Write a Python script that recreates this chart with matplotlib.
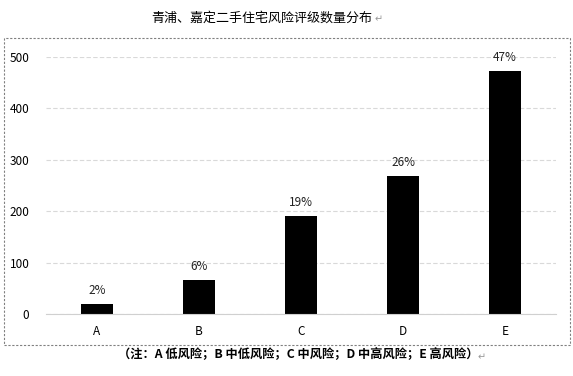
import numpy as np
import matplotlib.pyplot as plt
from matplotlib.patches import Rectangle

plt.rcParams['font.family'] = ['Noto Sans CJK SC', 'DejaVu Sans']

categories = ["A", "B", "C", "D", "E"]
counts = [20, 66, 191, 268, 473]
shares = ["2%", "6%", "19%", "26%", "47%"]
yticks = [0, 100, 200, 300, 400, 500]

fig = plt.figure(figsize=(5.73, 3.76), dpi=100)
ax = fig.add_axes([46 / 573, 1 - 314 / 376, 510 / 573, 257 / 376])

x = np.arange(len(categories))
ax.bar(x, counts, width=0.31, color="black", zorder=3)
for xi, c, s in zip(x, counts, shares):
    ax.text(xi, c + 14, s, ha="center", va="bottom", fontsize=8.5, color="#222222")

ax.set_xlim(-0.5, 4.5)
ax.set_ylim(0, 500)
ax.set_xticks(x)
ax.set_xticklabels(categories, fontsize=8.5)
ax.set_yticks(yticks)
ax.set_yticklabels([str(v) for v in yticks], fontsize=8.5)
ax.tick_params(length=0, pad=12)
ax.tick_params(axis="x", pad=8)
ax.yaxis.grid(True, linestyle=(0, (4, 2)), color="#d9d9d9", linewidth=0.8, zorder=0)
for sp in ["top", "right", "left"]:
    ax.spines[sp].set_visible(False)
ax.spines["bottom"].set_color("#d0d0d0")
ax.spines["bottom"].set_zorder(4)

fig.patches.append(Rectangle((4 / 573, 1 - 345 / 376), 566 / 573, 307 / 376,
                             transform=fig.transFigure, fill=False,
                             edgecolor="#808080", linestyle=(0, (2, 1.5)), linewidth=0.8))

fig.text(262 / 573, 1 - 18 / 376, "青浦、嘉定二手住宅风险评级数量分布", ha="center", va="center",
         fontsize=9.4, color="black")
fig.text(298 / 573, 1 - 355 / 376, "（注：A 低风险；B 中低风险；C 中风险；D 中高风险；E 高风险）",
         ha="center", va="center", fontsize=8.8, fontweight="bold", color="black")

# return marks after the title and the note
fig.text(375 / 573, 1 - 19 / 376, "↵", ha="left", va="center",
         fontsize=7, color="#999999", family="DejaVu Sans")
fig.text(478 / 573, 1 - 357 / 376, "↵", ha="left", va="center",
         fontsize=7, color="#999999", family="DejaVu Sans")

fig.savefig("out.png", dpi=100)
